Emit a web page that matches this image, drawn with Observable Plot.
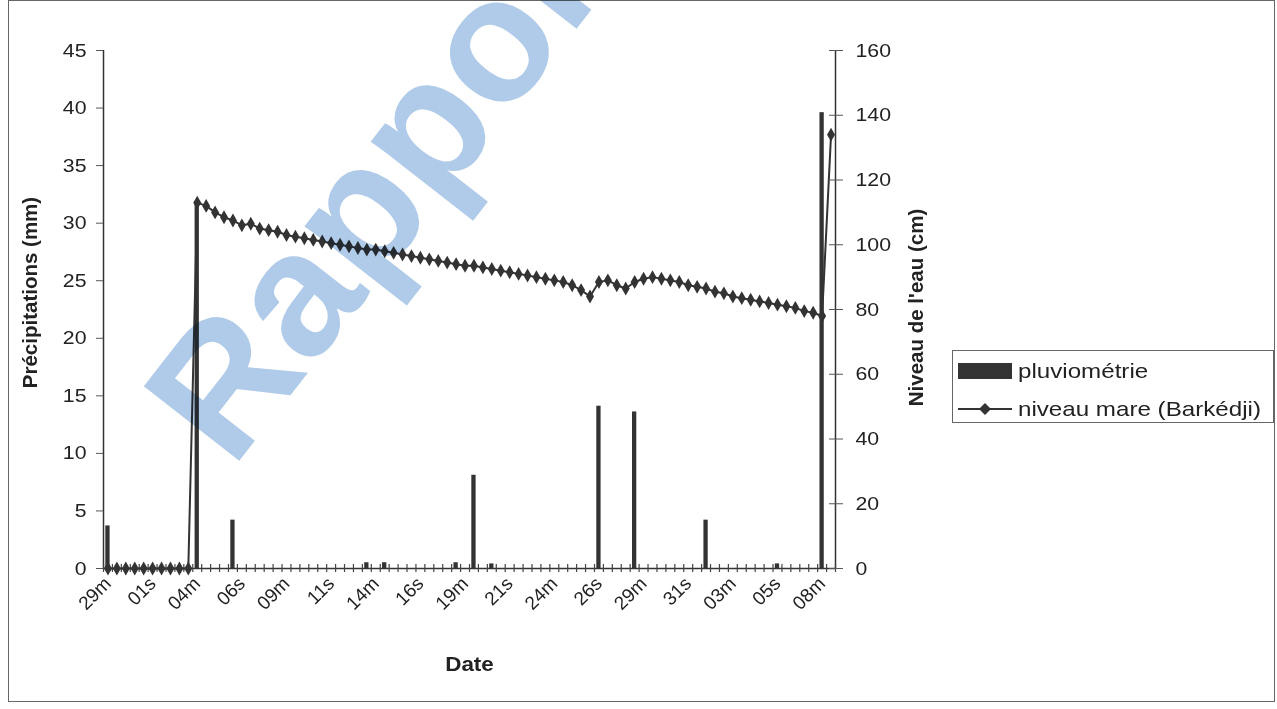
<!DOCTYPE html>
<html>
<head>
<meta charset="utf-8">
<script src="https://cdn.jsdelivr.net/npm/d3@7"></script>
<script src="https://cdn.jsdelivr.net/npm/@observablehq/plot@0.6"></script>
<style>
  html, body { margin: 0; padding: 0; background: #fff; }
  #wrap { position: relative; width: 1277px; height: 709px; overflow: hidden; font-family: "Liberation Sans", Arial, sans-serif; }
  #frame { position: absolute; left: 8px; top: 0px; width: 1267px; height: 702px; border: 1px solid #666; box-sizing: border-box; pointer-events: none; }
  #chart { position: absolute; left: 0; top: 0; }
  #legend { position: absolute; left: 952px; top: 350px; width: 322px; height: 73px; border: 1px solid #666; box-sizing: border-box; background: #fff; font-size: 21px; color: #222; }
  .item { position: absolute; left: 5px; height: 26px; display: flex; align-items: center; }
  .item span { display: inline-block; margin-left: 6px; white-space: nowrap; transform: scaleX(1.15); transform-origin: left center; }
  #wm { position: absolute; left: 0; top: 0; mix-blend-mode: multiply; pointer-events: none; }
</style>
</head>
<body>
<div id="wrap">
  <div id="chart"></div>
  <div id="legend">
    <div class="item" style="top:7px"><svg width="54" height="26"><rect x="0" y="5" width="54" height="16" fill="#333"></rect></svg><span>pluviométrie</span></div>
    <div class="item" style="top:45px"><svg width="54" height="26"><line x1="0" y1="13" x2="54" y2="13" stroke="#333" stroke-width="2"></line><path d="M27,7 L33,13 L27,19 L21,13 Z" fill="#333"></path></svg><span>niveau mare (Barkédji)</span></div>
  </div>
  <div id="frame"></div>
  <svg id="wm" width="1277" height="709"><text x="0" y="0" transform="translate(232,470) rotate(-52)" font-family="Liberation Sans, Arial, sans-serif" font-weight="bold" font-size="176" fill="#b0cbe9">Rapport</text></svg>
</div>
<script>
// Category labels every 5 readings (m = matin, s = soir)
const tickLabels = ["29m","01s","04m","06s","09m","11s","14m","16s","19m","21s","24m","26s","29m","31s","03m","05s","08m"];

// Precipitation (mm), one value per reading (82 readings)
const precipitation = [
  3.7, 0, 0, 0, 0, 0, 0, 0, 0, 0,
  31.9, 0, 0, 0, 4.2, 0, 0, 0, 0, 0,
  0, 0, 0, 0, 0, 0, 0, 0, 0, 0.5,
  0, 0.5, 0, 0, 0, 0, 0, 0, 0, 0.5,
  0, 8.1, 0, 0.4, 0, 0, 0, 0, 0, 0,
  0, 0, 0, 0, 0, 14.1, 0, 0, 0, 13.6,
  0, 0, 0, 0, 0, 0, 0, 4.2, 0, 0,
  0, 0, 0, 0, 0, 0.4, 0, 0, 0, 0,
  39.6, 0
];

// Water level (cm), niveau mare (Barkédji)
const level = [
  0, 0, 0, 0, 0, 0, 0, 0, 0, 0,
  113, 112, 110, 108.5, 107.5, 106, 106.5, 105, 104.5, 104,
  103, 102.5, 102, 101.5, 101, 100.5, 100, 99.5, 99, 98.5,
  98.5, 98, 97.5, 97, 96.5, 96, 95.5, 95, 94.5, 94,
  93.5, 93.5, 93, 92.5, 92, 91.5, 91, 90.5, 90, 89.5,
  89, 88.5, 87.5, 86, 84, 88.5, 89, 87.5, 86.5, 88.5,
  89.5, 90, 89.5, 89, 88.5, 87.5, 87, 86.5, 85.5, 85,
  84, 83.5, 83, 82.5, 82, 81.5, 81, 80.5, 79.5, 79,
  78, 134
];

const leftTicks = [0, 5, 10, 15, 20, 25, 30, 35, 40, 45];
const rightTicks = [0, 20, 40, 60, 80, 100, 120, 140, 160];
const leftMax = 45, rightMax = 160;
const k = leftMax / rightMax;

const idx = d3.range(precipitation.length);
const rows = idx.map(i => ({i, p: precipitation[i], lv: level[i] * k}));
const boundaries = d3.range(precipitation.length + 1).map(b => b - 0.5);
const labelIdx = tickLabels.map((_, j) => j * 5);

const chart = Plot.plot({
  width: 1277,
  height: 709,
  marginLeft: 103,
  marginRight: 442,
  marginTop: 50,
  marginBottom: 141,
  style: {fontFamily: "Liberation Sans, Arial, sans-serif", fontSize: "19px", color: "#222", background: "transparent"},
  x: {type: "linear", domain: [-0.5, precipitation.length - 0.5]},
  y: {domain: [0, leftMax]},
  marks: [
    Plot.rectY(rows, {x1: d => d.i - 0.24, x2: d => d.i + 0.24, y: "p", fill: "#333"}),
    Plot.ruleX([-0.5, precipitation.length - 0.5], {y1: 0, y2: leftMax, stroke: "#333", strokeWidth: 1.5}),
    Plot.ruleY([0], {stroke: "#333", strokeWidth: 1.5}),
    Plot.ruleX(boundaries, {y1: 0, y2: 0, insetTop: -4, insetBottom: -4, stroke: "#444", strokeWidth: 1.2}),
    Plot.line(rows, {x: "i", y: "lv", stroke: "#333", strokeWidth: 2}),
    Plot.dot(rows, {x: "i", y: "lv", symbol: "diamond", r: 4.2, fill: "#333"}),
    Plot.axisY({ticks: leftTicks, tickSize: 7, tickPadding: 10, label: null, stroke: "#555"}),
    Plot.axisY({anchor: "right", ticks: rightTicks.map(v => v * k), tickSize: 14, dx: -7, tickFormat: () => "", label: null, stroke: "#555"}),
    Plot.axisY({anchor: "right", ticks: rightTicks.map(v => v * k), tickSize: 0, tickPadding: 20, tickFormat: d => String(Math.round(d / k)), label: null}),
    Plot.axisX({ticks: labelIdx, tickSize: 0, tickPadding: 12, tickRotate: -45, tickFormat: d => tickLabels[d / 5], label: null}),
    Plot.text(["Précipitations (mm)"], {frameAnchor: "left", textAnchor: "middle", rotate: -90, dx: -73, dy: -17, fontWeight: "bold", fontSize: 20.5, fill: "#222"}),
    Plot.text(["Niveau de l'eau (cm)"], {frameAnchor: "right", textAnchor: "middle", rotate: -90, dx: 81, dy: -2, fontWeight: "bold", fontSize: 20.5, fill: "#222"}),
    Plot.text(["Date"], {frameAnchor: "bottom", dy: 102, fontWeight: "bold", fontSize: 20, fill: "#222"})
  ]
});
document.getElementById("chart").appendChild(chart);

// The reference picture is slightly stretched horizontally: widen horizontal texts to match
function widen(el, f) {
  const L = el.getComputedTextLength();
  if (L > 0) {
    el.setAttribute("textLength", (L * f).toFixed(1));
    el.setAttribute("lengthAdjust", "spacingAndGlyphs");
  }
}
chart.querySelectorAll('g[aria-label="y-axis tick label"] text').forEach(t => widen(t, 1.12));
chart.querySelectorAll('g[aria-label="text"] text').forEach(t => { if (t.textContent === "Date") widen(t, 1.12); });
</script>
</body>
</html>
